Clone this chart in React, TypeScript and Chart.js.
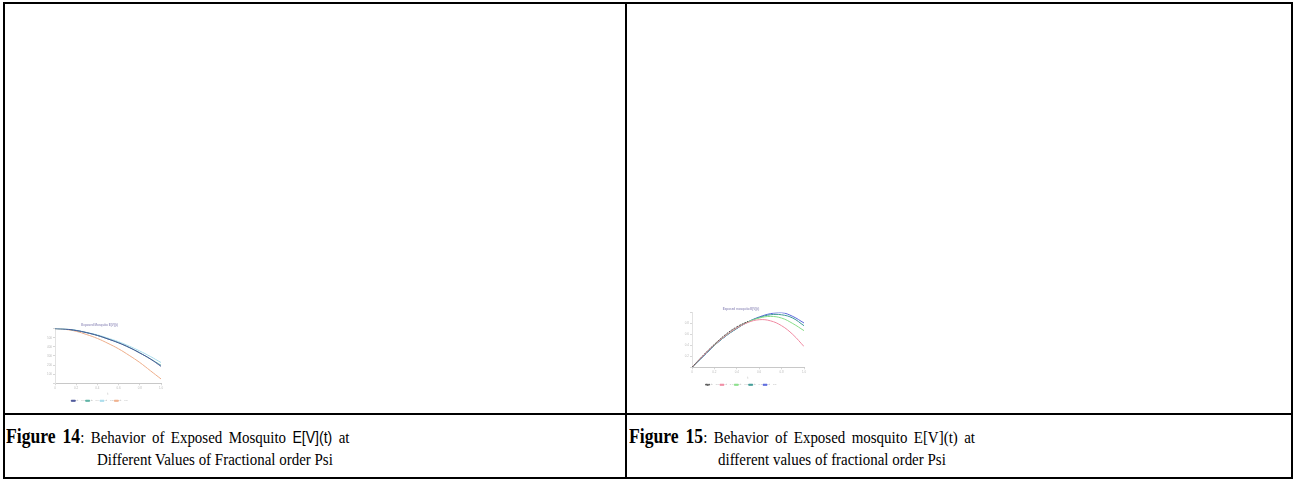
import React, { useEffect, useRef } from "react";
import { Chart, registerables } from "chart.js";
Chart.register(...registerables);

// ---------- Figure 14 data ----------
const tValues14 = [0, 0.1, 0.2, 0.3, 0.4, 0.5, 0.6, 0.7, 0.8, 0.9, 1.0];
const psiLabels14 = ["ψ = 1.0", "ψ = 0.9", "ψ = 0.8", "ψ = 0.7"];
const ev14Psi1 = [600, 594, 579, 555, 525, 486, 444, 393, 333, 267, 186];
const ev14Psi09 = [600, 594, 579, 555, 525, 486, 444, 393, 333, 267, 198];
const ev14Psi08 = [600, 595, 582, 558, 531, 495, 456, 408, 354, 294, 228];
const ev14Psi07 = [600, 591, 570, 534, 492, 438, 378, 306, 228, 138, 48];
const colors14 = ["#4a5598", "#5ab0a2", "#a8dcec", "#eeae8a"];

// ---------- Figure 15 data ----------
const tValues15 = [0, 0.1, 0.2, 0.3, 0.4, 0.5, 0.6, 0.7, 0.8, 0.9, 1.0];
const psiLabels15 = ["ψ = 1.0", "ψ = 0.9", "ψ = 0.8", "ψ = 0.7", "ψ = 0.6"];
const ev15Psi1 = [0, 0.22, 0.42, 0.6, 0.74, 0.84, null, null, null, null, null];
const ev15Psi09 = [0, 0.21, 0.41, 0.58, 0.72, 0.82, 0.87, 0.85, 0.76, 0.6, 0.38];
const ev15Psi08 = [0, 0.21, 0.41, 0.58, 0.72, 0.83, 0.9, 0.93, 0.9, 0.8, 0.67];
const ev15Psi07 = [0, 0.2, 0.4, 0.57, 0.71, 0.83, 0.91, 0.96, 0.96, 0.9, 0.76];
const ev15Psi06 = [0, 0.2, 0.4, 0.57, 0.71, 0.83, 0.92, 0.98, 1.0, 0.93, 0.81];
const colors15 = ["#555555", "#f08aa2", "#88de88", "#3f9a95", "#5a68dc"];

const tinyFont = { family: "Liberation Sans", size: 3 };

function toPoints(xs: number[], ys: (number | null)[]) {
  return xs.map((x, i) => ({ x, y: ys[i] }));
}

function makeOptions(cfg: {
  yMin: number;
  yMax: number;
  yStep: number;
  title: string;
  leftW: number;
  padRight: number;
}) {
  return {
    responsive: false,
    animation: false as const,
    layout: { padding: { left: 0, right: cfg.padRight, top: 0, bottom: 0 } },
    plugins: {
      title: {
        display: true,
        text: cfg.title,
        color: "#9a96c0",
        font: { ...tinyFont, size: 3 },
        padding: { top: 1, bottom: 2 },
      },
      legend: {
        display: true,
        position: "bottom" as const,
        labels: {
          boxWidth: 4,
          boxHeight: 1,
          padding: 1,
          font: { ...tinyFont, size: 2.5 },
          color: "#aaa",
        },
      },
      tooltip: { enabled: false },
    },
    scales: {
      x: {
        type: "linear" as const,
        min: 0,
        max: 1,
        ticks: { stepSize: 0.2, font: tinyFont, color: "#bbb", padding: 1 },
        grid: { drawOnChartArea: false, tickLength: 2, color: "#d8d8d8" },
        border: { color: "#c8c8c8", width: 1 },
        title: {
          display: true,
          text: "t",
          font: tinyFont,
          color: "#aaa",
          padding: { top: 1, bottom: 3 },
        },
      },
      y: {
        min: cfg.yMin,
        max: cfg.yMax,
        ticks: {
          stepSize: cfg.yStep,
          font: tinyFont,
          color: "#bbb",
          padding: 1,
          callback: (v: number) => (v === cfg.yMin || v === cfg.yMax ? "" : String(v)),
        },
        grid: { drawOnChartArea: false, tickLength: 2, color: "#d8d8d8" },
        border: { color: "#e2e2e2", width: 1 },
        afterFit: (scale: any) => {
          scale.width = cfg.leftW;
        },
      },
    },
  };
}

function MiniChart(props: {
  style: React.CSSProperties;
  width: number;
  height: number;
  build: (ctx: HTMLCanvasElement) => Chart;
}) {
  const ref = useRef<HTMLCanvasElement | null>(null);
  useEffect(() => {
    if (!ref.current) return;
    const chart = props.build(ref.current);
    return () => chart.destroy();
  }, []);
  return (
    <canvas
      ref={ref}
      width={props.width}
      height={props.height}
      style={{ position: "absolute", width: props.width, height: props.height, ...props.style }}
    />
  );
}

function build14(canvas: HTMLCanvasElement) {
  const series = [ev14Psi1, ev14Psi09, ev14Psi08, ev14Psi07];
  return new Chart(canvas, {
    type: "line",
    data: {
      datasets: series.map((s, i) => ({
        label: psiLabels14[i],
        data: toPoints(tValues14, s),
        borderColor: colors14[i],
        backgroundColor: colors14[i],
        borderWidth: 1,
        pointRadius: 0,
        tension: 0.4,
      })),
    },
    options: makeOptions({
      yMin: 0,
      yMax: 600,
      yStep: 100,
      title: "Exposed Mosquito E[V](t)",
      leftW: 17,
      padRight: 7,
    }) as any,
  });
}

function build15(canvas: HTMLCanvasElement) {
  const series = [ev15Psi1, ev15Psi09, ev15Psi08, ev15Psi07, ev15Psi06];
  return new Chart(canvas, {
    type: "line",
    data: {
      datasets: series.map((s, i) => ({
        label: psiLabels15[i],
        data: toPoints(tValues15, s),
        borderColor: colors15[i],
        backgroundColor: colors15[i],
        borderWidth: 1,
        borderDash: i === 0 ? [2, 1] : [],
        pointRadius: 0,
        tension: 0.4,
      })),
    },
    options: makeOptions({
      yMin: 0,
      yMax: 1,
      yStep: 0.2,
      title: "Exposed mosquito E[V](t)",
      leftW: 14,
      padRight: 8,
    }) as any,
  });
}

const serif = "'Liberation Serif', 'Times New Roman', serif";
const SX = 0.88;

export default function App() {
  const line: React.CSSProperties = { position: "absolute", background: "#000" };
  const cap: React.CSSProperties = {
    position: "absolute",
    fontFamily: serif,
    fontSize: 17,
    lineHeight: "21px",
    whiteSpace: "nowrap",
    color: "#000",
    transform: `scaleX(${SX})`,
    transformOrigin: "0 0",
  };
  const figLabel: React.CSSProperties = { fontSize: 20 };
  return (
    <div style={{ position: "absolute", left: 0, top: 0, width: 1293, height: 480, background: "#fff", overflow: "hidden" }}>
      {/* table borders */}
      <div style={{ ...line, left: 3, top: 2, width: 1290, height: 2 }} />
      <div style={{ ...line, left: 3, top: 477, width: 1290, height: 2 }} />
      <div style={{ ...line, left: 3, top: 2, width: 2, height: 477 }} />
      <div style={{ ...line, left: 1291, top: 2, width: 2, height: 477 }} />
      <div style={{ ...line, left: 625, top: 2, width: 2, height: 477 }} />
      <div style={{ ...line, left: 3, top: 413, width: 1290, height: 2 }} />

      <MiniChart style={{ left: 38, top: 322 }} width={130} height={90} build={build14} />
      <MiniChart style={{ left: 678, top: 306 }} width={134} height={90} build={build15} />

      {/* captions */}
      <div style={{ ...cap, left: 6, top: 426, wordSpacing: "3px" }}>
        <b style={figLabel}>Figure 14</b>: Behavior of Exposed Mosquito{" "}
        <span style={{ fontFamily: "'Liberation Sans', sans-serif", fontSize: 16 }}>E[V](t)</span> at
      </div>
      <div style={{ ...cap, left: 97, top: 449 }}>Different Values of Fractional order Psi</div>
      <div style={{ ...cap, left: 629, top: 426, wordSpacing: "3px" }}>
        <b style={figLabel}>Figure 15</b>: Behavior of Exposed mosquito E[V](t) at
      </div>
      <div style={{ ...cap, left: 718, top: 449 }}>different values of fractional order Psi</div>
    </div>
  );
}
